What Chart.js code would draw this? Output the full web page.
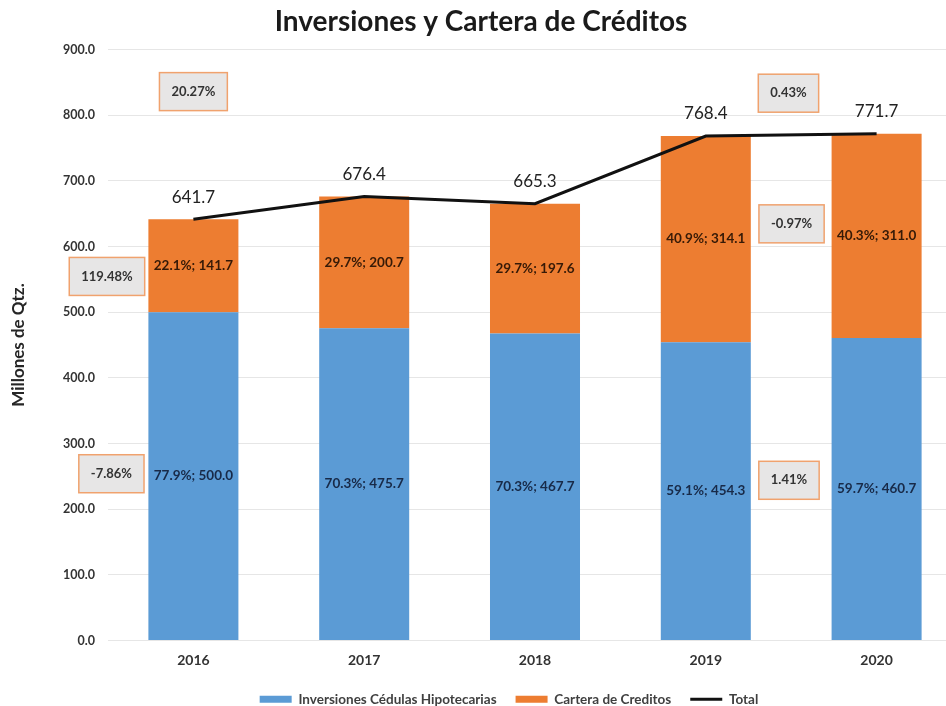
<!DOCTYPE html>
<html>
<head>
<meta charset="utf-8">
<script src="https://cdn.jsdelivr.net/npm/chart.js@4.4.1/dist/chart.umd.min.js"></script>
<style>
    html, body { margin: 0; padding: 0; background: #ffffff; overflow: hidden; width: 946px; height: 706px; }
    #wrap { position: absolute; left: 0; top: 0; width: 970px; height: 716px; }
</style>
</head>
<body>
<div id="wrap"><canvas id="chart" width="970" height="716"></canvas></div>
<script>
const years = ['2016', '2017', '2018', '2019', '2020'];
const inversiones = [500.0, 475.7, 467.7, 454.3, 460.7];
const cartera = [141.7, 200.7, 197.6, 314.1, 311.0];
const total = [641.7, 676.4, 665.3, 768.4, 771.7];
const pctInversiones = [77.9, 70.3, 70.3, 59.1, 59.7];
const pctCartera = [22.1, 29.7, 29.7, 40.9, 40.3];
const yMin = 0;
const yMax = 900;
const yStep = 100;

// growth call-outs, anchored in axis units: [category index, value]
const growthLabels = ['20.27%', '119.48%', '-7.86%', '0.43%', '-0.97%', '1.41%'];
const growthAnchors = [[0, 836], [-0.506, 554.5], [-0.48, 254], [3.484, 833.6], [3.502, 634.6], [3.487, 244]];

const FONT = "Lato, 'Open Sans', sans-serif";

const labelPlugin = {
    id: 'barLabels',
    afterLayout(chart) {
        // canvas is a bit wider than the window, nudge the legend to sit under the plot
        chart.legend.left += 28;
        chart.legend.right += 28;
    },
    afterDatasetsDraw(chart) {
        const ctx = chart.ctx;
        const xs = chart.scales.x;
        const ys = chart.scales.y;
        ctx.save();
        ctx.textAlign = 'center';
        ctx.textBaseline = 'middle';

        // segment labels "pct%; value"
        ctx.font = 'bold 13.5px ' + FONT;
        [[0, pctInversiones, '#182a48'], [1, pctCartera, '#361a07']].forEach(([di, pcts, color]) => {
            const values = chart.data.datasets[di].data;
            chart.getDatasetMeta(di).data.forEach((bar, i) => {
                const p = bar.getProps(['x', 'y', 'base'], true);
                ctx.fillStyle = color;
                ctx.fillText(pcts[i].toFixed(1) + '%; ' + values[i].toFixed(1), p.x, (p.y + p.base) / 2);
            });
        });

        // totals above the line
        ctx.font = '17px ' + FONT;
        ctx.fillStyle = '#222222';
        chart.getDatasetMeta(2).data.forEach((pt, i) => {
            ctx.fillText(total[i].toFixed(1), pt.x, pt.y - 22);
        });

        // growth boxes
        ctx.font = 'bold 13px ' + FONT;
        growthLabels.forEach((txt, i) => {
            const cx = xs.getPixelForValue(growthAnchors[i][0]);
            const cy = ys.getPixelForValue(growthAnchors[i][1]);
            const w = ctx.measureText(txt).width + 24;
            const h = 38;
            ctx.fillStyle = '#e7e6e6';
            ctx.fillRect(cx - w / 2, cy - h / 2, w, h);
            ctx.strokeStyle = '#f0a26e';
            ctx.lineWidth = 1.5;
            ctx.strokeRect(cx - w / 2, cy - h / 2, w, h);
            ctx.fillStyle = '#333333';
            ctx.fillText(txt, cx, cy);
        });
        ctx.restore();
    }
};

new Chart(document.getElementById('chart').getContext('2d'), {
    type: 'bar',
    data: {
        labels: years,
        datasets: [
            {
                label: 'Inversiones Cédulas Hipotecarias',
                data: inversiones,
                backgroundColor: '#5b9bd5',
                borderWidth: 0,
                pointStyle: 'rect',
                order: 1
            },
            {
                label: 'Cartera de Creditos',
                data: cartera,
                backgroundColor: '#ed7d31',
                borderWidth: 0,
                pointStyle: 'rect',
                order: 1
            },
            {
                type: 'line',
                label: 'Total',
                data: total,
                stack: 'total',
                borderColor: '#111111',
                backgroundColor: '#111111',
                borderWidth: 3,
                pointRadius: 0,
                pointStyle: 'line',
                tension: 0,
                order: 0
            }
        ]
    },
    options: {
        responsive: false,
        animation: false,
        devicePixelRatio: 1,
        barPercentage: 0.527,
        categoryPercentage: 1,
        layout: { padding: { left: 0, right: 8, top: 0, bottom: 0 } },
        plugins: {
            title: {
                display: true,
                text: 'Inversiones y Cartera de Créditos',
                color: '#1a1a1a',
                font: { family: FONT, size: 28, weight: 'bold' },
                padding: { top: 5, bottom: 11 }
            },
            legend: {
                position: 'bottom',
                labels: {
                    usePointStyle: true,
                    pointStyleWidth: 32,
                    boxHeight: 7,
                    padding: 19,
                    color: '#404040',
                    font: { family: FONT, size: 13.5, weight: 'bold' },
                    sort: (a, b) => a.datasetIndex - b.datasetIndex
                }
            },
            tooltip: { enabled: false }
        },
        scales: {
            x: {
                stacked: true,
                grid: { display: false, drawTicks: false },
                border: { display: false },
                ticks: { color: '#333333', padding: 12, font: { family: FONT, size: 14, weight: 'bold' } },
                afterFit(scale) { scale.height = 33; }
            },
            y: {
                stacked: true,
                min: yMin,
                max: yMax,
                grid: { color: '#e6e6e6', drawTicks: false },
                border: { display: false },
                ticks: {
                    stepSize: yStep,
                    padding: 13,
                    color: '#333333',
                    font: { family: FONT, size: 12.5, weight: 'bold' },
                    callback: (v) => Number(v).toFixed(1)
                },
                title: {
                    display: true,
                    text: 'Millones de Qtz.',
                    color: '#262626',
                    font: { family: FONT, size: 17, weight: 'bold' },
                    padding: { top: 8, bottom: 0 }
                },
                afterFit(scale) { scale.width = 108; }
            }
        }
    },
    plugins: [labelPlugin]
});
</script>
</body>
</html>
